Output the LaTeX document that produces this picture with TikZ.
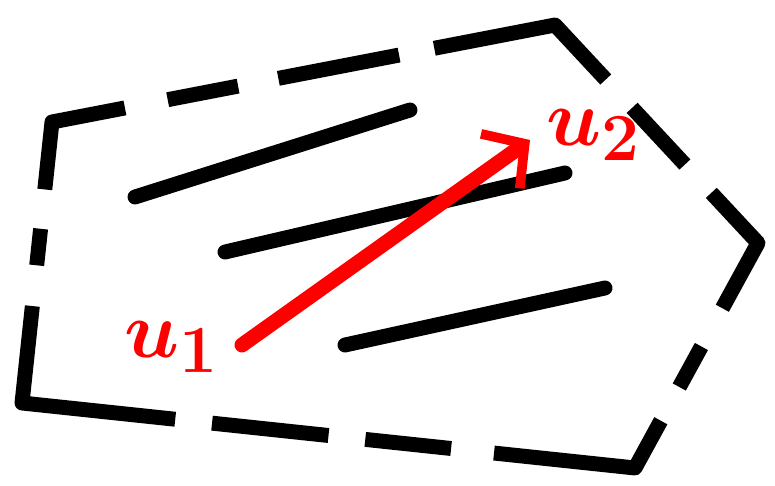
\documentclass[tikz,border=0pt]{standalone}
\usepackage{amsmath}
\usepackage{graphicx}
\usetikzlibrary{arrows.meta, calc}
\definecolor{InkRed}{RGB}{255,0,0}
\newcommand{\biglbl}[1]{\scalebox{1.85}{$#1$}}
\begin{document}
\begin{tikzpicture}[x=0.02cm, y=-0.02cm,
    rim/.style={line width=8.5pt, line join=round},
    stroke/.style={line width=8.5pt, line cap=round},
    vec/.style={InkRed, line width=8.5pt, line cap=round,
      -{Straight Barb[length=17pt, width=38pt, line width=5.5pt]}},
    lbl/.style={InkRed, inner sep=0pt, anchor=base west, font=\Huge\boldmath}]
  \useasboundingbox (0,0) rectangle (775,486);
  % corners of the region
  \coordinate (tl) at (52,122);
  \coordinate (tr) at (555,25);
  \coordinate (rt) at (758,243);
  \coordinate (br) at (635,468);
  \coordinate (bl) at (22,403);
  % dashed boundary, corner pieces
  \draw[rim] ($(bl)!0.76!(tl)$) -- (tl) -- ($(tl)!0.145!(tr)$);
  \draw[rim] ($(tl)!0.76!(tr)$) -- (tr) -- ($(tr)!0.25!(rt)$);
  \draw[rim] ($(tr)!0.77!(rt)$) -- (rt) -- ($(rt)!0.29!(br)$);
  \draw[rim] ($(rt)!0.79!(br)$) -- (br) -- ($(br)!0.23!(bl)$);
  \draw[rim] ($(br)!0.75!(bl)$) -- (bl) -- ($(bl)!0.345!(tl)$);
  % dashed boundary, middle pieces
  \foreach \a/\b/\s/\e in {tl/tr/0.23/0.37, tl/tr/0.45/0.69, tr/rt/0.38/0.64,
      rt/br/0.46/0.64, br/bl/0.30/0.44, br/bl/0.50/0.69, bl/tl/0.49/0.62}
    \draw[rim] ($(\a)!\s!(\b)$) -- ($(\a)!\e!(\b)$);
  % level lines
  \draw[stroke] (135,197) -- (410,110);
  \draw[stroke] (225,252) -- (565,173);
  \draw[stroke] (345,345) -- (605,288);
  % vector from u1 to u2
  \coordinate (u1) at (242,345);
  \coordinate (u2) at (530,140);
  \draw[vec] (u1) -- (u2);
  \node[lbl] (lu1) at (124,358) {\biglbl{u_1}};
  \node[lbl] (lu2) at (546,146) {\biglbl{u_2}};
\end{tikzpicture}
\end{document}
